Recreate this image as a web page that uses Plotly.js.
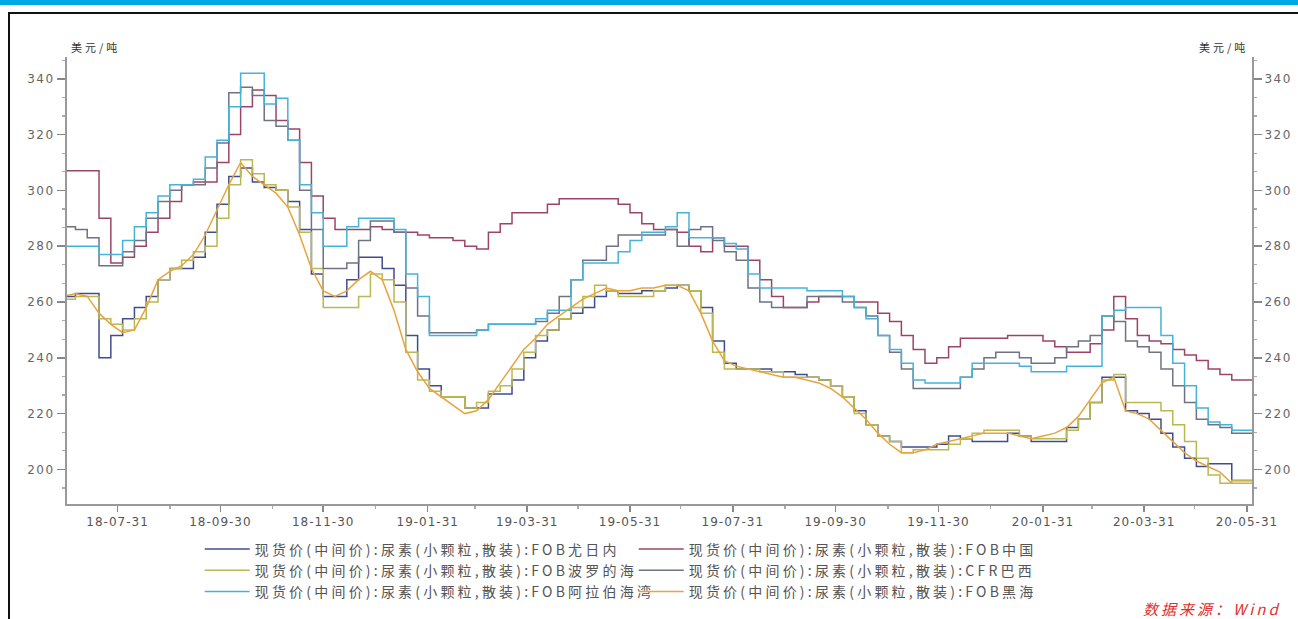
<!DOCTYPE html>
<html>
<head>
<meta charset="utf-8">
<script src="https://cdn.plot.ly/plotly-3.0.1.min.js"></script>
<style>
html,body{margin:0;padding:0;background:#fff;}
#wrap{position:relative;width:1298px;height:619px;overflow:hidden;background:#fff;}
#bar{position:absolute;left:0;top:0;width:1298px;height:5px;background:#00a9e3;}
#topline{position:absolute;left:8px;top:12px;right:0;height:2px;background:#111;}
#leftline{position:absolute;left:8px;top:12px;width:2px;bottom:0;background:#111;}
#chart{position:absolute;left:0;top:0;width:1298px;height:619px;}
.legendtext{letter-spacing:3.2px;}
.xtick text{letter-spacing:1px;}
.ytick text,.y2tick text{letter-spacing:1.5px;}
.annotation-text{letter-spacing:3px;}
</style>
</head>
<body>
<div id="wrap">
<div id="chart"></div>
<div id="bar"></div>
<div id="topline"></div>
<div id="leftline"></div>
</div>
<script>
// Weekly observation dates
const dates = [
'2018-06-29',
'2018-07-06','2018-07-13','2018-07-20','2018-07-27','2018-08-03','2018-08-10','2018-08-17','2018-08-24','2018-08-31','2018-09-07',
'2018-09-14','2018-09-21','2018-09-28','2018-10-05','2018-10-12','2018-10-19','2018-10-26','2018-11-02','2018-11-09','2018-11-16',
'2018-11-23','2018-11-30','2018-12-07','2018-12-14','2018-12-21','2018-12-28','2019-01-04','2019-01-11','2019-01-18','2019-01-25',
'2019-02-01','2019-02-08','2019-02-15','2019-02-22','2019-03-01','2019-03-08','2019-03-15','2019-03-22','2019-03-29','2019-04-05',
'2019-04-12','2019-04-19','2019-04-26','2019-05-03','2019-05-10','2019-05-17','2019-05-24','2019-05-31','2019-06-07','2019-06-14',
'2019-06-21','2019-06-28','2019-07-05','2019-07-12','2019-07-19','2019-07-26','2019-08-02','2019-08-09','2019-08-16','2019-08-23',
'2019-08-30','2019-09-06','2019-09-13','2019-09-20','2019-09-27','2019-10-04','2019-10-11','2019-10-18','2019-10-25','2019-11-01',
'2019-11-08','2019-11-15','2019-11-22','2019-11-29','2019-12-06','2019-12-13','2019-12-20','2019-12-27','2020-01-03','2020-01-10',
'2020-01-17','2020-01-24','2020-01-31','2020-02-07','2020-02-14','2020-02-21','2020-02-28','2020-03-06','2020-03-13','2020-03-20',
'2020-03-27','2020-04-03','2020-04-10','2020-04-17','2020-04-24','2020-05-01','2020-05-08','2020-05-15','2020-05-22','2020-05-29',
'2020-06-05'];

// FOB 尤日内
const yuzhny = [262,263,263,240,248,254,258,262,268,272, 272,276,285,295,305,308,303,301,300,296,
286,270,262,262,268,276,276,272,266,248, 236,230,226,226,222,222,227,227,232,240,
246,250,254,256,258,262,264,263,263,264, 264,265,266,264,258,246,238,236,236,236,
235,235,234,233,232,230,226,221,216,212, 210,208,208,208,209,212,211,210,210,210,
213,212,210,210,210,215,218,224,233,233, 221,220,218,213,208,204,201,202,202,196, 196,196];

// FOB 中国
const china = [307,307,307,290,274,276,280,285,290,296, 302,303,303,310,320,330,336,334,325,322,
310,298,290,286,286,286,287,286,285,285, 284,283,283,282,280,279,285,288,292,292,
292,295,297,297,297,297,297,295,292,288, 286,286,285,280,278,283,280,280,275,268,
262,258,258,260,262,262,262,260,260,256, 253,248,243,238,240,244,247,247,247,247,
248,248,248,246,244,242,242,245,250,262, 254,248,246,245,243,241,239,236,234,232, 232,232];

// FOB 波罗的海
const baltic = [261,262,262,254,252,250,254,260,268,272, 275,278,280,290,302,311,306,302,300,294,
285,272,258,258,258,262,270,268,260,242, 232,228,226,226,222,224,228,230,236,242,
248,250,254,258,262,266,264,262,262,262, 264,266,266,264,256,242,236,236,236,235,
235,233,233,233,232,230,226,220,216,212, 210,206,207,207,207,209,211,213,214,214,
214,212,211,211,211,214,218,224,232,234, 224,224,224,221,216,210,204,198,195,196, 196,196];

// CFR 巴西
const brazil = [287,286,283,273,273,278,282,290,296,300, 302,302,308,317,335,337,334,325,323,318,
300,286,272,272,274,282,289,289,285,265, 255,249,249,249,249,250,252,252,252,252,
253,256,262,268,275,275,280,284,284,284, 284,286,280,286,287,282,278,275,265,260,
258,258,258,262,262,262,260,258,255,248, 242,236,229,229,229,229,233,236,240,242,
242,240,238,238,240,244,246,248,255,253, 246,244,242,236,230,224,218,216,215,213, 213,213];

// FOB 阿拉伯海湾
const gulf = [280,280,280,277,277,282,287,292,298,302, 302,304,312,318,330,342,342,331,333,318,
302,292,280,280,287,290,290,290,286,270, 262,248,248,248,248,250,252,252,252,252,
254,257,257,268,274,274,274,278,282,285, 285,287,292,283,283,283,281,279,270,265,
265,265,265,264,264,264,262,258,254,248, 243,238,232,231,231,231,233,238,238,238,
238,237,235,235,235,237,237,237,255,257, 258,258,258,248,238,230,222,217,216,214, 214,214];

// FOB 黑海
const blackSea = [262,263,262,256,252,249,250,258,268,271, 273,277,284,293,302,310,305,302,299,294,
284,272,264,262,264,268,271,268,257,243, 235,229,226,223,220,221,225,231,237,243,
247,252,255,258,261,263,265,264,264,265, 265,266,266,264,256,246,239,237,236,235,
234,233,233,232,231,229,226,222,218,213, 209,206,206,207,209,210,211,212,213,213,
213,212,211,212,213,215,219,225,231,233, 221,220,218,214,210,206,203,201,199,195, 195,195];

const seriesNames = [
  '现货价(中间价):尿素(小颗粒,散装):FOB尤日内',
  '现货价(中间价):尿素(小颗粒,散装):FOB中国',
  '现货价(中间价):尿素(小颗粒,散装):FOB波罗的海',
  '现货价(中间价):尿素(小颗粒,散装):CFR巴西',
  '现货价(中间价):尿素(小颗粒,散装):FOB阿拉伯海湾',
  '现货价(中间价):尿素(小颗粒,散装):FOB黑海'
];
const xTickVals = ['2018-07-31','2018-09-30','2018-11-30','2019-01-31','2019-03-31','2019-05-31',
  '2019-07-31','2019-09-30','2019-11-30','2020-01-31','2020-03-31','2020-05-31'];
const xTickText = ['18-07-31','18-09-30','18-11-30','19-01-31','19-03-31','19-05-31',
  '19-07-31','19-09-30','19-11-30','20-01-31','20-03-31','20-05-31'];
const xMinorVals = ['2018-08-31','2018-10-31','2018-12-31','2019-02-28','2019-04-30','2019-06-30',
  '2019-08-31','2019-10-31','2019-12-31','2020-02-29','2020-04-30'];

const colors = ['#3f4c8e','#9c4468','#b9b852','#6f7284','#45b2d9','#e8a43c'];
const values = [yuzhny, china, baltic, brazil, gulf, blackSea];
const shapes = ['hv','hv','hv','hv','hv','linear'];

const traces = values.map((v,i)=>({
  type:'scatter', mode:'lines', x:dates, y:v, name:seriesNames[i],
  line:{color:colors[i], width:1.5, shape:shapes[i]}, hoverinfo:'skip'
}));
traces.push({type:'scatter', mode:'lines', x:[dates[0]], y:[null], yaxis:'y2', showlegend:false, hoverinfo:'skip'});

const tickFont = {family:'DejaVu Sans, sans-serif', size:12, color:'#555'};
const yTickFont = {family:'DejaVu Sans, sans-serif', size:12, color:'#666'};
const yRange = [187.6, 347.8];
const yCommon = {
  range:yRange, tickmode:'linear', tick0:200, dtick:20,
  ticks:'outside', ticklen:8, tickwidth:1.5, tickcolor:'#888',
  showline:true, linecolor:'#999', linewidth:2, showgrid:false, zeroline:false,
  tickfont:yTickFont,
  minor:{tick0:200, dtick:20/3, ticks:'outside', ticklen:3, tickwidth:1.2, tickcolor:'#aaa', showgrid:false}
};
const layout = {
  width:1298, height:619,
  margin:{l:67, r:46, t:57, b:111},
  paper_bgcolor:'rgba(0,0,0,0)', plot_bgcolor:'rgba(0,0,0,0)',
  showlegend:true,
  xaxis:{
    type:'date', range:['2018-07-01','2020-06-03'],
    tickmode:'array', tickvals:xTickVals, ticktext:xTickText,
    ticks:'outside', ticklen:6, tickwidth:1.5, tickcolor:'#888',
    showline:true, linecolor:'#999', linewidth:2, showgrid:false, zeroline:false,
    tickfont:tickFont,
    minor:{tickmode:'array', tickvals:xMinorVals, ticks:'outside', ticklen:3, tickwidth:1.5, tickcolor:'#aaa', showgrid:false}
  },
  yaxis:Object.assign({}, yCommon),
  yaxis2:Object.assign({overlaying:'y', side:'right'}, yCommon),
  legend:{
    orientation:'h', x:0.112, xanchor:'left', y:-0.066, yanchor:'top',
    entrywidth:374, entrywidthmode:'pixels', itemwidth:45,
    font:{family:'Noto Sans CJK SC, sans-serif', size:14, color:'#555'},
    bgcolor:'rgba(0,0,0,0)', traceorder:'normal'
  },
  annotations:[
    {xref:'paper', yref:'paper', x:0, y:1, xanchor:'left', yanchor:'bottom', xshift:2, showarrow:false,
     text:'美元/吨', font:{family:'Noto Sans CJK SC, sans-serif', size:11, color:'#333'}},
    {xref:'paper', yref:'paper', x:1, y:1, xanchor:'right', yanchor:'bottom', xshift:-2, showarrow:false,
     text:'美元/吨', font:{family:'Noto Sans CJK SC, sans-serif', size:11, color:'#333'}},
    {xref:'paper', yref:'paper', x:0.906, y:-0.205, xanchor:'left', yanchor:'top', showarrow:false,
     text:'<i>数据来源：Wind</i>', font:{family:'Noto Sans CJK SC, sans-serif', size:15, color:'#e0302c'}}
  ]
};
Plotly.newPlot('chart', traces, layout, {staticPlot:true, displayModeBar:false});
</script>
</body>
</html>
